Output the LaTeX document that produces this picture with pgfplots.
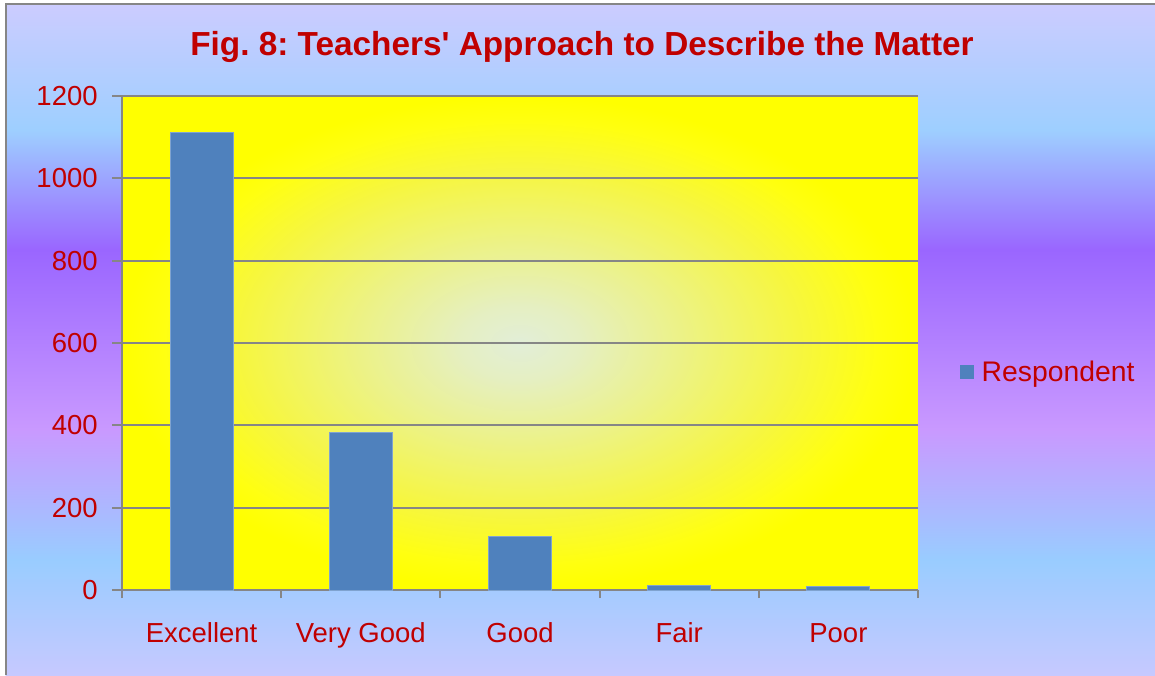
\documentclass[border=0pt]{standalone}
\usepackage{pgfplots}
\pgfplotsset{compat=1.18}
\usepackage{fontspec}
\setmainfont{Liberation Sans}
\frenchspacing
\definecolor{barblue}{HTML}{4F81BD}
\definecolor{baredge}{HTML}{7FA3D0}
\definecolor{dred}{HTML}{C00000}
\definecolor{gridgray}{HTML}{868686}
\definecolor{bgA}{HTML}{C6C9FF}
\definecolor{bgB}{HTML}{99CCFF}
\definecolor{bgC}{HTML}{C999FF}
\definecolor{bgD}{HTML}{9A66FF}
\definecolor{bgE}{HTML}{9ECFFF}
\definecolor{bgF}{HTML}{CCCCFF}
\definecolor{pc0}{HTML}{E2EED8}
\definecolor{pc1}{HTML}{E5EFC2}
\definecolor{pc2}{HTML}{ECF288}
\definecolor{pc3}{HTML}{F6F640}
\definecolor{pc4}{HTML}{FFFF10}
\pgfdeclareverticalshading{bgshade}{100bp}{color(0bp)=(bgA); color(25bp)=(bgA); color(33.6bp)=(bgB); color(43.3bp)=(bgC); color(56.7bp)=(bgD); color(65.6bp)=(bgE); color(75bp)=(bgF); color(100bp)=(bgF)}
\pgfdeclareradialshading{plotshade}{\pgfpointorigin}{color(0bp)=(pc0); color(3.75bp)=(pc1); color(10bp)=(pc2); color(17.5bp)=(pc3); color(22.5bp)=(pc4); color(25bp)=(yellow); color(50bp)=(yellow)}
\begin{document}
\begin{tikzpicture}
\useasboundingbox (0,0) rectangle (693pt,405pt);
\fill[white] (0,0) rectangle (693pt,405pt);
\shade[shading=bgshade] (3.3pt,0) rectangle (693pt,402.6pt);
\draw[gridgray, line width=1.2pt] (3.6pt,0) -- (3.6pt,402.6pt) -- (693pt,402.6pt);
\node[text=dred, font=\bfseries\fontsize{20}{24}\selectfont] at (349.2pt,376.8pt) {Fig. 8: Teachers\textquotesingle{} Approach to Describe the Matter};
\begin{axis}[
  at={(73.2pt,51pt)}, anchor=south west,
  scale only axis, width=477.6pt, height=296.4pt,
  xmin=-0.5, xmax=4.5, ymin=0, ymax=1200,
  ytick={0,200,...,1200},
  xtick={0,1,2,3,4},
  xticklabels={Excellent,Very Good,Good,Fair,Poor},
  minor xtick={-0.5,0.5,...,4.5},
  /pgf/number format/1000 sep={},
  /pgf/number format/assume math mode=true,
  axis x line*=bottom, axis y line*=left,
  axis line style={gridgray, line width=1.2pt, -},
  ymajorgrids, grid style={gridgray, line width=1.2pt},
  tick align=outside,
  major tick length=6pt, minor tick length=4.8pt,
  major x tick style={draw=none},
  minor x tick style={gridgray, line width=1.2pt},
  ytick style={gridgray, line width=1.2pt},
  ticklabel style={text=dred, font=\fontsize{16.5}{19}\selectfont, inner sep=0pt},
  yticklabel style={anchor=east, xshift=-8.4pt},
  xticklabel style={anchor=base, yshift=-25.2pt},
  axis background/.style={shade, shading=plotshade},
  legend style={at={(axis description cs:1,0.441)}, anchor=west, xshift=25.2pt,
    draw=none, fill=none, inner sep=0pt, font=\fontsize{17}{20}\selectfont, text=dred},
  legend image code/.code={\fill[barblue] (0pt,-3.9pt) rectangle (7.8pt,3.9pt); \path (10.2pt,0pt);},
  clip=false,
]
\addplot[ybar, bar width=37.8pt, fill=barblue, draw=baredge, line width=0.6pt] coordinates {(0,1112) (1,383) (2,130) (3,12) (4,9)};
\addlegendentry{Respondent}
\end{axis}
\end{tikzpicture}
\end{document}
